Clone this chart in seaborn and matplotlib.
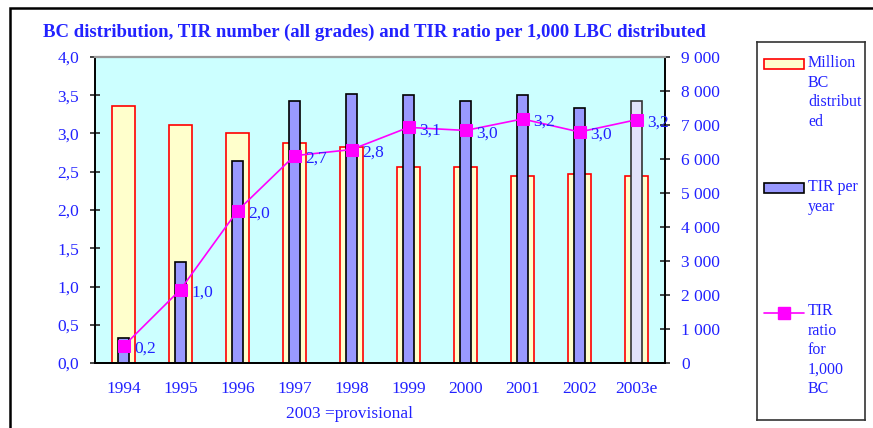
import numpy as np
import pandas as pd
import matplotlib
matplotlib.use("Agg")
import matplotlib.pyplot as plt
from matplotlib.patches import Rectangle
from matplotlib.lines import Line2D
import seaborn as sns

# ==========================
# DATA
# ==========================

years = ["1994", "1995", "1996", "1997", "1998",
         "1999", "2000", "2001", "2002", "2003e"]

bc_million = [3.36, 3.11, 3.01, 2.87, 2.82, 2.56, 2.56, 2.45, 2.47, 2.44]

tir_per_year = [745, 2980, 5950, 7710, 7910, 7870, 7710, 7870, 7510, 7715]

tir_ratio = [0.22, 0.96, 1.99, 2.71, 2.79, 3.08, 3.04, 3.19, 3.02, 3.18]

left_ticks = [0.0, 0.5, 1.0, 1.5, 2.0, 2.5, 3.0, 3.5, 4.0]
right_ticks = [0, 1000, 2000, 3000, 4000, 5000, 6000, 7000, 8000, 9000]

# ==========================
# STYLE
# ==========================

sns.set_style("white")
plt.rcParams["font.family"] = ["Liberation Serif", "DejaVu Serif"]

BLUE = "#2222ff"
CYAN = "#ccffff"
BC_FILL = "#ffffcc"
TIR_FILL = "#9999ff"
MAGENTA = "#ff00ff"
FS = 12.5

df = pd.DataFrame({
    "Year": years,
    "BC": bc_million,
    "TIR": tir_per_year,
    "Ratio": tir_ratio,
})
df["pos"] = np.arange(len(years))

fig = plt.figure(figsize=(8.73, 4.28), dpi=100)

ax = fig.add_axes([95 / 873, 65 / 428, 570 / 873, 306 / 428])
ax.set_facecolor(CYAN)

# BC bars (wide, behind)
sns.barplot(
    data=df,
    x="Year",
    y="BC",
    width=0.41,
    color=BC_FILL,
    edgecolor="red",
    linewidth=1.2,
    saturation=1,
    ax=ax,
)

# TIR bars on right axis
ax2 = ax.twinx()
sns.barplot(
    data=df,
    x="Year",
    y="TIR",
    width=0.2,
    color=TIR_FILL,
    edgecolor="black",
    linewidth=1.2,
    saturation=1,
    ax=ax2,
)
# provisional year drawn lighter
last = ax2.patches[len(years) - 1]
last.set_facecolor("#e2e2fa")
last.set_edgecolor("#333333")

# ratio line on a third axis sharing left scale
ax3 = ax.twinx()
sns.lineplot(
    data=df,
    x="pos",
    y="Ratio",
    color=MAGENTA,
    linewidth=1.2,
    marker="s",
    markersize=8,
    markeredgecolor=MAGENTA,
    ax=ax3,
)
for p, r in zip(df["pos"], df["Ratio"]):
    ax3.annotate(
        f"{r:.1f}".replace(".", ","),
        (p, r),
        xytext=(8, -2),
        textcoords="offset points",
        ha="left",
        va="center",
        color=BLUE,
        fontsize=FS,
    )

# ==========================
# AXES
# ==========================

for a in (ax, ax2, ax3):
    a.set_xlim(-0.5, len(years) - 0.5)

ax.set_ylim(0, 4)
ax3.set_ylim(0, 4)
ax2.set_ylim(0, 9000)

ax.set_yticks(left_ticks)
ax.set_yticklabels([f"{v:.1f}".replace(".", ",") for v in left_ticks])
ax2.set_yticks(right_ticks)
ax2.set_yticklabels([f"{v:,}".replace(",", " ") for v in right_ticks])

ax.set_xticks(np.arange(len(years)))
ax.set_xticklabels(years)
ax.set_xticks(np.arange(len(years) + 1) - 0.5, minor=True)
ax.tick_params(axis="x", which="major", length=0, pad=13,
               labelsize=FS, labelcolor=BLUE)
ax.tick_params(axis="x", which="minor", length=7, width=1.2,
               direction="inout", color="black")
ax.tick_params(axis="y", length=7, width=1.2, direction="inout",
               labelsize=FS, labelcolor=BLUE, pad=8, left=True)
ax2.tick_params(axis="y", length=7, width=1.2, direction="inout",
                labelsize=FS, labelcolor=BLUE, pad=8, right=True)

ax3.set_yticks([])
ax3.set_xlabel("")
ax3.set_ylabel("")
ax.set_xlabel("")
ax.set_ylabel("")
ax2.set_ylabel("")

for a in (ax, ax2, ax3):
    for side in ("left", "right", "bottom"):
        a.spines[side].set_color("black")
        a.spines[side].set_linewidth(1.2)
    a.spines["top"].set_color("#999999")
    a.spines["top"].set_linewidth(1.5)

ax3.spines["right"].set_visible(False)
ax3.spines["left"].set_visible(False)

# ==========================
# TEXTS
# ==========================

fig.text(
    43 / 873, 1 - 32 / 428,
    "BC distribution, TIR number (all grades) and TIR ratio per 1,000 LBC distributed",
    color=BLUE,
    fontsize=13.5,
    fontweight="bold",
    ha="left",
    va="center",
)

fig.text(
    350 / 873, 1 - 414 / 428,
    "2003 =provisional",
    color=BLUE,
    fontsize=FS,
    ha="center",
    va="center",
)

# outer frame
fig.patches.append(Rectangle(
    (10 / 873, -0.05), 1.0, 1 - 8 / 428 + 0.05,
    transform=fig.transFigure, fill=False,
    edgecolor="black", linewidth=1.8,
))

# ==========================
# LEGEND
# ==========================

lg = fig.add_axes([757 / 873, 8 / 428, 108 / 873, 378 / 428])
lg.set_xlim(0, 108)
lg.set_ylim(378, 0)
lg.set_xticks([])
lg.set_yticks([])
for s in lg.spines.values():
    s.set_color("#333333")
    s.set_linewidth(1.2)

lg.add_patch(Rectangle((7, 17), 40, 10, facecolor=BC_FILL,
                       edgecolor="red", linewidth=1.2))
lg.add_patch(Rectangle((7, 141), 40, 10, facecolor=TIR_FILL,
                       edgecolor="black", linewidth=1.2))
lg.add_line(Line2D([7, 47], [271, 271], color=MAGENTA, linewidth=1.2))
lg.plot([27], [271], marker="s", markersize=8, color=MAGENTA)

legend_labels = [
    (13, "Million\nBC\ndistribut\ned"),
    (137, "TIR per\nyear"),
    (261, "TIR\nratio\nfor\n1,000\nBC"),
]
for y0, txt in legend_labels:
    lg.text(51, y0, txt, color=BLUE, fontsize=11.5, ha="left",
            va="top", linespacing=1.3)

fig.savefig("out.png", dpi=100)
plt.close(fig)
